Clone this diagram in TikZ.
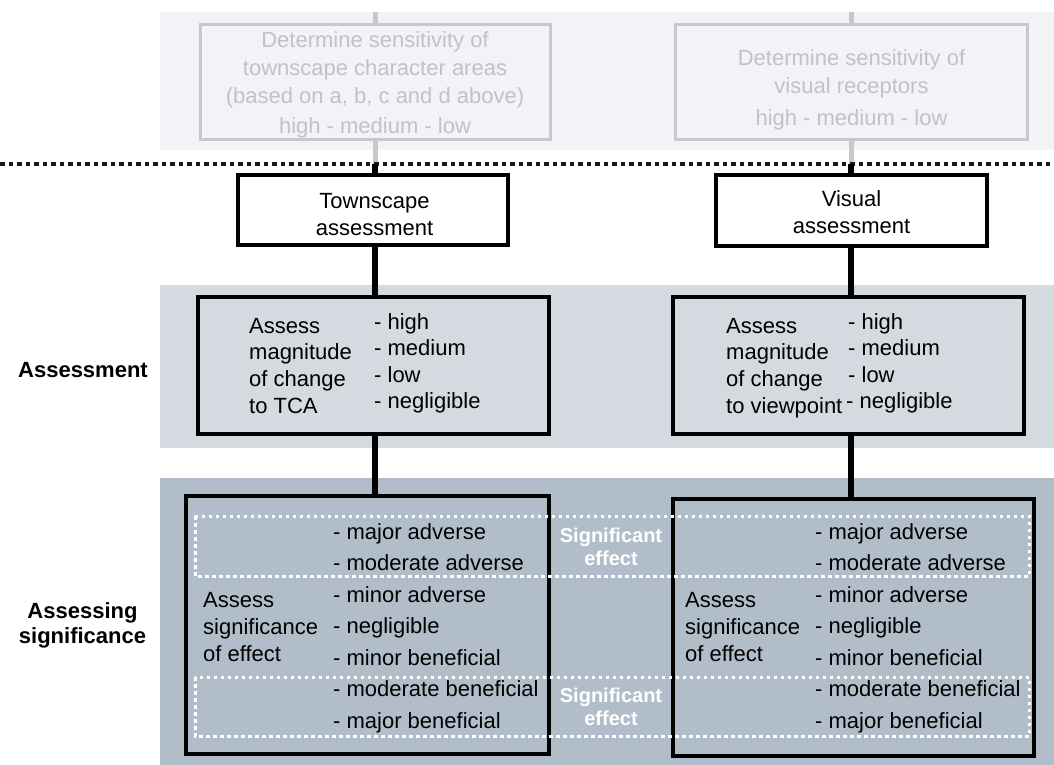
\documentclass[tikz,border=0pt]{standalone}
\usepackage{fontspec}
\setmainfont{Liberation Sans}
\definecolor{topbg}{HTML}{F3F3F7}
\definecolor{midbg}{HTML}{D4DAE0}
\definecolor{botbg}{HTML}{B1BEC9}
\definecolor{faint}{HTML}{C8C8CC}
\definecolor{fainttext}{HTML}{C2C2C6}
\tikzset{
  box/.style={draw=black, line width=4pt, inner sep=0pt},
  fbox/.style={draw=faint, line width=3pt, inner sep=0pt},
  link/.style={line width=5.5pt, draw=black},
  flink/.style={line width=5pt, draw=faint},
  txt/.style={anchor=base west, inner sep=0pt, font=\fontsize{22}{26}\selectfont},
  ftxt/.style={anchor=base, inner sep=0pt, text=fainttext, font=\fontsize{22}{26}\selectfont},
  htxt/.style={anchor=base, inner sep=0pt, font=\fontsize{22}{26}\selectfont},
  lbl/.style={anchor=base, inner sep=0pt, font=\fontsize{22}{26}\selectfont\bfseries},
  sigtxt/.style={anchor=base, inner sep=0pt, text=white, font=\fontsize{20}{24}\selectfont\bfseries},
  dotline/.style={line width=4pt, draw=black!90, dash pattern=on 4.5pt off 4pt},
  wdots/.style={line width=3pt, draw=white, dash pattern=on 3.5pt off 3.5pt},
}
\begin{document}
\begin{tikzpicture}[x=1pt,y=-1pt]
\useasboundingbox (0,0) rectangle (1054,765);
% backgrounds
\fill[topbg] (160,12) rectangle (1054,150);
\fill[midbg] (160,285) rectangle (1054,448);
\fill[botbg] (160,478) rectangle (1054,765);

% boxes
\node[fbox, minimum width=350pt, minimum height=114pt] (tL) at (375,82) {};
\node[fbox, minimum width=352pt, minimum height=114pt] (tR) at (851.5,82) {};
\node[box, minimum width=270pt, minimum height=70pt] (aL) at (373,210) {};
\node[box, minimum width=271pt, minimum height=71pt] (aR) at (851.5,210) {};
\node[box, minimum width=351pt, minimum height=137pt] (mL) at (373.5,365.5) {};
\node[box, minimum width=351pt, minimum height=137pt] (mR) at (848.5,365.5) {};
\node[box, minimum width=363pt, minimum height=258pt] (sL) at (367.5,625) {};
\node[box, minimum width=361pt, minimum height=257pt] (sR) at (853.5,627.5) {};

% coordinates for free ends
\coordinate (cL) at (375,12);
\coordinate (cR) at (851,12);
\coordinate (dL) at (375,164);
\coordinate (dR) at (851,164);
\coordinate (d0) at (0,164);
\coordinate (d1) at (1054,164);

% connectors
\draw[flink] (cL) -- (cL |- tL.north);
\draw[flink] (cR) -- (cR |- tR.north);
\draw[flink] (dL |- tL.south) -- (dL);
\draw[flink] (dR |- tR.south) -- (dR);
\draw[dotline] (d0) -- (d1);
\draw[link] (dL) -- (dL |- aL.north);
\draw[link] (dR) -- (dR |- aR.north);
\draw[link] (dL |- aL.south) -- (dL |- mL.north);
\draw[link] (dR |- aR.south) -- (dR |- mR.north);
\draw[link] (dL |- mL.south) -- (dL |- sL.north);
\draw[link] (dR |- mR.south) -- (dR |- sR.north);

% white dotted bands
\draw[wdots] (195,516) rectangle (1029,576);
\draw[wdots] (195,677) rectangle (1029,736);

% top texts
\node[ftxt] (tL1) at (375,48) {Determine sensitivity of};
\node[ftxt] (tL2) at (375,76) {townscape character areas};
\node[ftxt] (tL3) at (375,103) {(based on a, b, c and d above)};
\node[ftxt] (tL4) at (375,133) {high - medium - low};
\node[ftxt] (tR1) at (851.5,66) {Determine sensitivity of};
\node[ftxt] (tR2) at (851.5,94) {visual receptors};
\node[ftxt] (tR3) at (851.5,125) {high - medium - low};

% assessment titles
\node[htxt] (aL1) at (374.5,208) {Townscape};
\node[htxt] (aL2) at (374.5,235) {assessment};
\node[htxt] (aR1) at (851.5,206) {Visual};
\node[htxt] (aR2) at (851.5,233) {assessment};

% magnitude boxes
\node[txt] (mL1) at (249,333) {Assess};
\node[txt] (mL2) at (249,359) {magnitude};
\node[txt] (mL3) at (249,386) {of change};
\node[txt] (mL4) at (249,413) {to TCA};
\node[txt] (mL5) at (374,329) {- high};
\node[txt] (mL6) at (374,355.5) {- medium};
\node[txt] (mL7) at (374,382) {- low};
\node[txt] (mL8) at (374,408.5) {- negligible};
\node[txt] (mR1) at (726,333) {Assess};
\node[txt] (mR2) at (726,359) {magnitude};
\node[txt] (mR3) at (726,386) {of change};
\node[txt] (mR4) at (726,413) {to viewpoint};
\node[txt] (mR5) at (848,329) {- high};
\node[txt] (mR6) at (848,355.5) {- medium};
\node[txt] (mR7) at (848,382) {- low};
\node[txt] (mR8) at (846,408.5) {- negligible};

% significance boxes
\node[txt] (sL1) at (203,607) {Assess};
\node[txt] (sL2) at (203,634) {significance};
\node[txt] (sL3) at (203,661) {of effect};
\node[txt] (sR1) at (685,607) {Assess};
\node[txt] (sR2) at (685,634) {significance};
\node[txt] (sR3) at (685,661) {of effect};
\foreach \yy/\t [count=\i] in {539/{- major adverse},570.5/{- moderate adverse},602/{- minor adverse},633.5/{- negligible},665/{- minor beneficial},696.5/{- moderate beneficial},728/{- major beneficial}}{
  \node[txt] (sLc\i) at (333,\yy) {\t};
  \node[txt] (sRc\i) at (815,\yy) {\t};
}

% significant effect labels
\node[sigtxt] (g1) at (611,542) {Significant};
\node[sigtxt] (g2) at (611,565) {effect};
\node[sigtxt] (g3) at (611,702) {Significant};
\node[sigtxt] (g4) at (611,725) {effect};

% side labels
\node[lbl] (l1) at (83,377) {Assessment};
\node[lbl] (l2) at (82.5,618) {Assessing};
\node[lbl] (l3) at (82.5,643) {significance};
\end{tikzpicture}
\end{document}
